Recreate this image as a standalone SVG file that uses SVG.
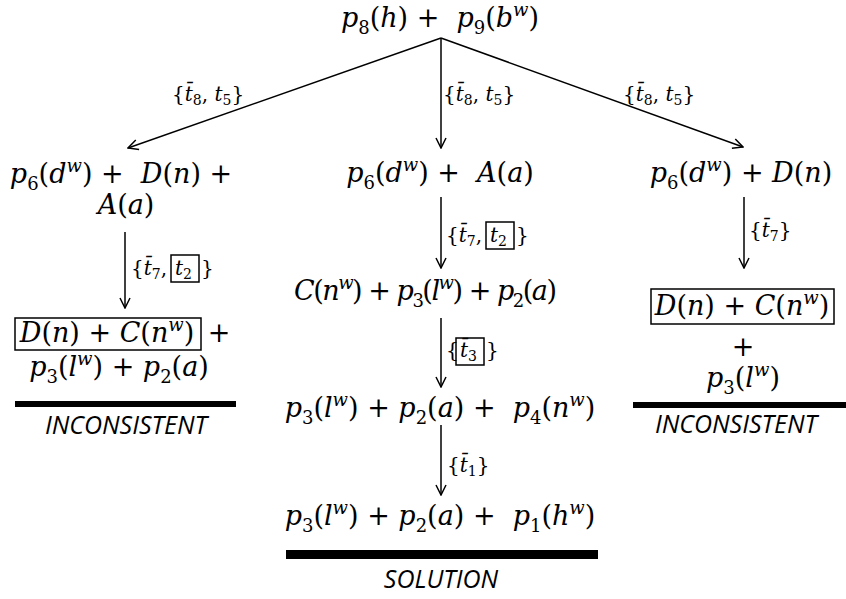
<svg xmlns="http://www.w3.org/2000/svg" width="846" height="599" viewBox="0 0 846 599">
<defs>
<style>
.m{font-family:"DejaVu Serif","Liberation Serif",serif;font-size:27px;fill:#000}
.i{font-style:italic}
.s{font-size:18px}
.l{font-family:"DejaVu Serif","Liberation Serif",serif;font-size:20px;fill:#000}
.ls{font-size:14px}
.w{font-family:"Open Sans","Noto Sans",sans-serif;font-style:italic;font-size:25px;fill:#000}
.cn{stroke:#000;stroke-width:1.5;fill:none}
.bx{stroke:#000;stroke-width:1.5;fill:none}
.bar{fill:#000}
</style>
<marker id="ah" viewBox="0 0 12 12" refX="11" refY="6" markerWidth="12" markerHeight="12" markerUnits="userSpaceOnUse" orient="auto">
<path d="M1,1 L11,6 L1,11" fill="none" stroke="#000" stroke-width="1.5"/>
</marker>
</defs>

<g id="connectors">
<line class="cn" x1="441" y1="38" x2="128" y2="148" marker-end="url(#ah)"/>
<line class="cn" x1="441" y1="38" x2="441" y2="148" marker-end="url(#ah)"/>
<line class="cn" x1="441" y1="38" x2="743" y2="147" marker-end="url(#ah)"/>
<line class="cn" x1="125" y1="232" x2="125" y2="308" marker-end="url(#ah)"/>
<line class="cn" x1="441" y1="197" x2="441" y2="268" marker-end="url(#ah)"/>
<line class="cn" x1="441" y1="318" x2="441" y2="387" marker-end="url(#ah)"/>
<line class="cn" x1="441" y1="425" x2="441" y2="495" marker-end="url(#ah)"/>
<line class="cn" x1="744" y1="197" x2="744" y2="268" marker-end="url(#ah)"/>
</g>

<g id="edge-labels">
<text class="l" x="172" y="101">{<tspan class="i">t̄</tspan><tspan class="ls" dy="4">8</tspan><tspan dy="-4">, </tspan><tspan class="i">t</tspan><tspan class="ls" dy="4">5</tspan><tspan dy="-4">}</tspan></text>
<text class="l" x="443" y="101">{<tspan class="i">t̄</tspan><tspan class="ls" dy="4">8</tspan><tspan dy="-4">, </tspan><tspan class="i">t</tspan><tspan class="ls" dy="4">5</tspan><tspan dy="-4">}</tspan></text>
<text class="l" x="623" y="101">{<tspan class="i">t̄</tspan><tspan class="ls" dy="4">8</tspan><tspan dy="-4">, </tspan><tspan class="i">t</tspan><tspan class="ls" dy="4">5</tspan><tspan dy="-4">}</tspan></text>

<text class="l" x="131" y="275">{<tspan class="i">t̄</tspan><tspan class="ls" dy="4">7</tspan><tspan dy="-4">,</tspan></text>
<rect class="bx" x="171" y="255" width="28" height="27"/>
<text class="l" x="175" y="275"><tspan class="i">t</tspan><tspan class="ls" dy="4">2</tspan></text>
<text class="l" x="201" y="275">}</text>

<text class="l" x="446" y="242">{<tspan class="i">t̄</tspan><tspan class="ls" dy="4">7</tspan><tspan dy="-4">,</tspan></text>
<rect class="bx" x="486" y="222" width="28" height="27"/>
<text class="l" x="490" y="242"><tspan class="i">t</tspan><tspan class="ls" dy="4">2</tspan></text>
<text class="l" x="516" y="242">}</text>

<text class="l" x="446" y="357">{</text>
<rect class="bx" x="456" y="338" width="28" height="27"/>
<text class="l" x="460" y="357"><tspan class="i">t̄</tspan><tspan class="ls" dy="4">3</tspan></text>
<text class="l" x="486" y="357">}</text>

<text class="l" x="447" y="472">{<tspan class="i">t̄</tspan><tspan class="ls" dy="4">1</tspan><tspan dy="-4">}</tspan></text>
<text class="l" x="749" y="237">{<tspan class="i">t̄</tspan><tspan class="ls" dy="4">7</tspan><tspan dy="-4">}</tspan></text>
</g>

<g id="n-top">
<text class="m" x="440" y="27" text-anchor="middle"><tspan class="i">p</tspan><tspan class="s" dy="7">8</tspan><tspan dy="-7">(</tspan><tspan class="i">h</tspan><tspan>) + &#160;</tspan><tspan class="i">p</tspan><tspan class="s" dy="7">9</tspan><tspan dy="-7">(</tspan><tspan class="i">b</tspan><tspan class="s i" dy="-11">w</tspan><tspan dy="11">)</tspan></text>
</g>

<g id="n-left">
<text class="m" x="121" y="183" text-anchor="middle"><tspan class="i">p</tspan><tspan class="s" dy="7">6</tspan><tspan dy="-7">(</tspan><tspan class="i">d</tspan><tspan class="s i" dy="-11">w</tspan><tspan dy="11">) + &#160;</tspan><tspan class="i">D</tspan><tspan>(</tspan><tspan class="i">n</tspan><tspan>) +</tspan></text>
<text class="m" x="126" y="214" text-anchor="middle"><tspan class="i">A</tspan><tspan>(</tspan><tspan class="i">a</tspan><tspan>)</tspan></text>
</g>

<g id="n-mid">
<text class="m" x="440" y="182" text-anchor="middle"><tspan class="i">p</tspan><tspan class="s" dy="7">6</tspan><tspan dy="-7">(</tspan><tspan class="i">d</tspan><tspan class="s i" dy="-11">w</tspan><tspan dy="11">) + &#160;</tspan><tspan class="i">A</tspan><tspan>(</tspan><tspan class="i">a</tspan><tspan>)</tspan></text>
</g>

<g id="n-right">
<text class="m" x="741" y="182" text-anchor="middle"><tspan class="i">p</tspan><tspan class="s" dy="7">6</tspan><tspan dy="-7">(</tspan><tspan class="i">d</tspan><tspan class="s i" dy="-11">w</tspan><tspan dy="11">) + </tspan><tspan class="i">D</tspan><tspan>(</tspan><tspan class="i">n</tspan><tspan>)</tspan></text>
</g>

<g id="n-left-end">
<rect class="bx" x="15" y="318" width="186" height="32"/>
<text class="m" x="107" y="342" text-anchor="middle"><tspan class="i">D</tspan><tspan>(</tspan><tspan class="i">n</tspan><tspan>) + </tspan><tspan class="i">C</tspan><tspan>(</tspan><tspan class="i">n</tspan><tspan class="s i" dy="-11">w</tspan><tspan dy="11">)</tspan></text>
<text class="m" x="219" y="342" text-anchor="middle">+</text>
<text class="m" x="119" y="376" text-anchor="middle"><tspan class="i">p</tspan><tspan class="s" dy="7">3</tspan><tspan dy="-7">(</tspan><tspan class="i">l</tspan><tspan class="s i" dy="-11">w</tspan><tspan dy="11">) + </tspan><tspan class="i">p</tspan><tspan class="s" dy="7">2</tspan><tspan dy="-7">(</tspan><tspan class="i">a</tspan><tspan>)</tspan></text>
<rect class="bar" x="15" y="401" width="221" height="6"/>
<text class="w" x="126" y="434" text-anchor="middle">INCONSISTENT</text>
</g>

<g id="n-mid2">
<text class="m" x="294" y="300" textLength="263" lengthAdjust="spacing"><tspan class="i">C</tspan><tspan>(</tspan><tspan class="i">n</tspan><tspan class="s i" dy="-11">w</tspan><tspan dy="11">) + </tspan><tspan class="i">p</tspan><tspan class="s" dy="7">3</tspan><tspan dy="-7">(</tspan><tspan class="i">l</tspan><tspan class="s i" dy="-11">w</tspan><tspan dy="11">) + </tspan><tspan class="i">p</tspan><tspan class="s" dy="7">2</tspan><tspan dy="-7">(</tspan><tspan class="i">a</tspan><tspan>)</tspan></text>
</g>

<g id="n-mid3">
<text class="m" x="440" y="417" text-anchor="middle"><tspan class="i">p</tspan><tspan class="s" dy="7">3</tspan><tspan dy="-7">(</tspan><tspan class="i">l</tspan><tspan class="s i" dy="-11">w</tspan><tspan dy="11">) + </tspan><tspan class="i">p</tspan><tspan class="s" dy="7">2</tspan><tspan dy="-7">(</tspan><tspan class="i">a</tspan><tspan>) + &#160;</tspan><tspan class="i">p</tspan><tspan class="s" dy="7">4</tspan><tspan dy="-7">(</tspan><tspan class="i">n</tspan><tspan class="s i" dy="-11">w</tspan><tspan dy="11">)</tspan></text>
</g>

<g id="n-solution">
<text class="m" x="440" y="525" text-anchor="middle"><tspan class="i">p</tspan><tspan class="s" dy="7">3</tspan><tspan dy="-7">(</tspan><tspan class="i">l</tspan><tspan class="s i" dy="-11">w</tspan><tspan dy="11">) + </tspan><tspan class="i">p</tspan><tspan class="s" dy="7">2</tspan><tspan dy="-7">(</tspan><tspan class="i">a</tspan><tspan>) + &#160;</tspan><tspan class="i">p</tspan><tspan class="s" dy="7">1</tspan><tspan dy="-7">(</tspan><tspan class="i">h</tspan><tspan class="s i" dy="-11">w</tspan><tspan dy="11">)</tspan></text>
<rect class="bar" x="286" y="550" width="312" height="9"/>
<text class="w" x="441" y="588" text-anchor="middle">SOLUTION</text>
</g>

<g id="n-right-end">
<rect class="bx" x="651" y="289" width="183" height="35"/>
<text class="m" x="742" y="315" text-anchor="middle"><tspan class="i">D</tspan><tspan>(</tspan><tspan class="i">n</tspan><tspan>) + </tspan><tspan class="i">C</tspan><tspan>(</tspan><tspan class="i">n</tspan><tspan class="s i" dy="-11">w</tspan><tspan dy="11">)</tspan></text>
<text class="m" x="743" y="356" text-anchor="middle">+</text>
<text class="m" x="743" y="387" text-anchor="middle"><tspan class="i">p</tspan><tspan class="s" dy="7">3</tspan><tspan dy="-7">(</tspan><tspan class="i">l</tspan><tspan class="s i" dy="-11">w</tspan><tspan dy="11">)</tspan></text>
<rect class="bar" x="633" y="402" width="213" height="6"/>
<text class="w" x="736" y="433" text-anchor="middle">INCONSISTENT</text>
</g>
</svg>
